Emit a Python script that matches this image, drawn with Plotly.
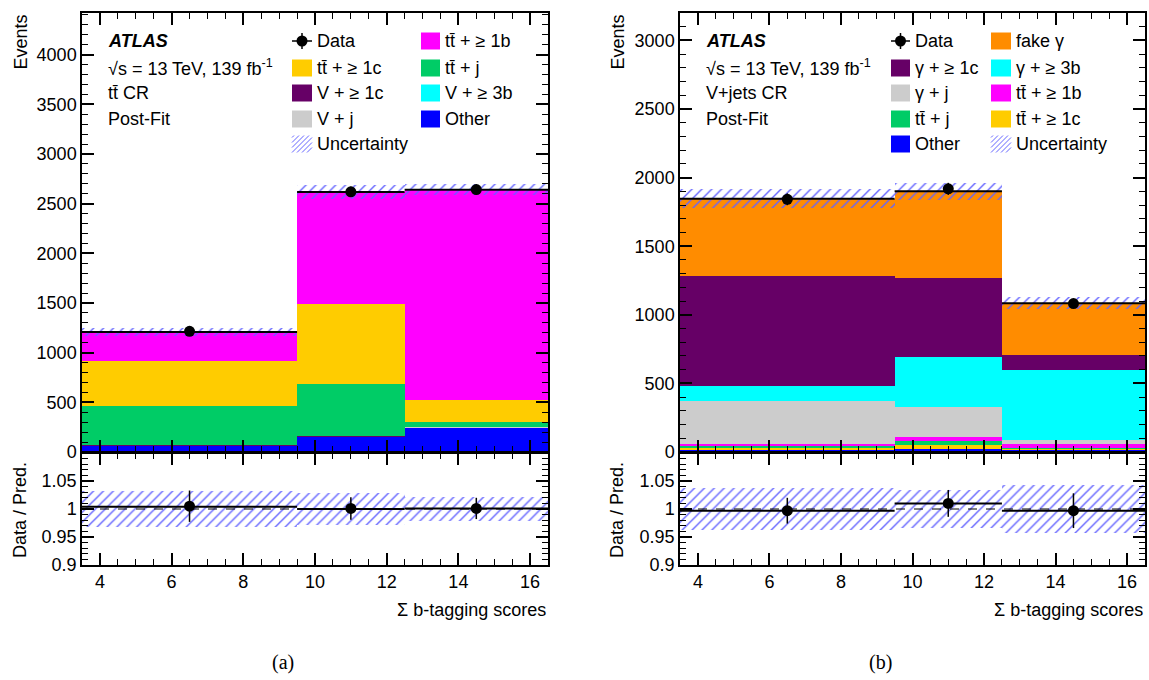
import plotly.graph_objects as go

W, H = 1149, 680


def px(x):
    return x / W


def py(y):
    return 1 - y / H


# ---------------- data ----------------
bin_edges = [3.5, 9.5, 12.5, 16.5]
bin_centers = [6.5, 11.0, 14.5]
bin_widths = [6.0, 3.0, 4.0]

# (a) ttbar CR, post-fit
a_other = [65, 155, 250]
a_vj = [3, 3, 3]
a_v3b = [1, 1, 1]
a_v1c = [1, 1, 1]
a_ttj = [395, 520, 50]
a_ttc = [448, 810, 220]
a_ttb = [294, 1127, 2115]
a_data = [1215, 2620, 2642]
a_data_err = [35, 51, 51]
a_unc = [42, 70, 54]
a_ratio = [1.005, 1.001, 1.001]
a_ratio_err = [0.028, 0.020, 0.019]
a_ratio_line = [1.004, 1.000, 1.001]
a_ratio_band = [0.033, 0.028, 0.021]

# (b) V+jets CR, post-fit
b_other = [20, 25, 20]
b_ttc = [10, 25, 5]
b_ttj = [20, 30, 5]
b_ttb = [10, 27, 30]
b_gj = [313, 222, 25]
b_g3b = [107, 364, 513]
b_g1c = [805, 578, 109]
b_fake = [561, 629, 378]
b_data = [1842, 1918, 1082]
b_data_err = [43, 44, 33]
b_unc = [68, 63, 43]
b_ratio = [0.997, 1.010, 0.997]
b_ratio_err = [0.023, 0.024, 0.031]
b_ratio_line = [0.997, 1.010, 0.997]
b_ratio_band = [0.038, 0.034, 0.042]

C_TTB = "#ff00ff"
C_TTC = "#ffcc00"
C_TTJ = "#00cc66"
C_V1C = "#660066"
C_V3B = "#00ffff"
C_VJ = "#cccccc"
C_OTHER = "#0000ff"
C_FAKE = "#ff8c00"
C_HATCH = "#6464ff"

FONT = "Liberation Sans, Arial, Helvetica, sans-serif"
TBAR = "t" + "t\u0304"

fig = go.Figure()


def add_stack(components, xa, ya):
    base = [0.0] * len(bin_centers)
    for name, vals, color in components:
        fig.add_trace(go.Bar(
            x=bin_centers, y=vals, base=list(base), width=bin_widths,
            marker=dict(color=color, line=dict(width=0)), opacity=1,
            xaxis=xa, yaxis=ya, showlegend=False, name=name))
        base = [b + v for b, v in zip(base, vals)]
    return base


def add_steps(values, xa, ya, dash="solid", width=2):
    xs, ys = [], []
    for i, v in enumerate(values):
        xs += [bin_edges[i], bin_edges[i + 1], None]
        ys += [v, v, None]
    fig.add_trace(go.Scatter(x=xs, y=ys, mode="lines",
                             line=dict(color="black", width=width, dash=dash),
                             xaxis=xa, yaxis=ya, showlegend=False, hoverinfo="skip"))


def add_band(center, half, xa, ya):
    fig.add_trace(go.Bar(
        x=bin_centers, y=[2 * h for h in half],
        base=[c - h for c, h in zip(center, half)], width=bin_widths,
        marker=dict(color="rgba(0,0,0,0)", line=dict(width=0),
                    pattern=dict(shape="/", fgcolor=C_HATCH, bgcolor="rgba(0,0,0,0)",
                                 size=7, solidity=0.2)),
        opacity=1, xaxis=xa, yaxis=ya, showlegend=False, name="Uncertainty"))


def add_points(vals, errs, xa, ya):
    fig.add_trace(go.Scatter(
        x=bin_centers, y=vals, mode="markers",
        marker=dict(color="black", size=11),
        error_y=dict(type="data", array=errs, color="black", thickness=1.5, width=0),
        xaxis=xa, yaxis=ya, showlegend=False, name="Data"))


# ---- panel (a)
a_tot = add_stack([
    ("Other", a_other, C_OTHER),
    ("V + j", a_vj, C_VJ),
    ("V + >=3b", a_v3b, C_V3B),
    ("V + >=1c", a_v1c, C_V1C),
    ("tt + j", a_ttj, C_TTJ),
    ("tt + >=1c", a_ttc, C_TTC),
    ("tt + >=1b", a_ttb, C_TTB),
], "x", "y")
add_band(a_tot, a_unc, "x", "y")
add_steps(a_tot, "x", "y")
add_points(a_data, a_data_err, "x", "y")

add_band([1.0] * 3, a_ratio_band, "x2", "y2")
fig.add_trace(go.Scatter(x=[bin_edges[0], bin_edges[-1]], y=[1, 1], mode="lines",
                         line=dict(color="black", width=1, dash="dash"),
                         xaxis="x2", yaxis="y2", showlegend=False, hoverinfo="skip"))
add_steps(a_ratio_line, "x2", "y2")
add_points(a_ratio, a_ratio_err, "x2", "y2")

# ---- panel (b)
b_tot = add_stack([
    ("Other", b_other, C_OTHER),
    ("tt + >=1c", b_ttc, C_TTC),
    ("tt + j", b_ttj, C_TTJ),
    ("tt + >=1b", b_ttb, C_TTB),
    ("gamma + j", b_gj, C_VJ),
    ("gamma + >=3b", b_g3b, C_V3B),
    ("gamma + >=1c", b_g1c, C_V1C),
    ("fake gamma", b_fake, C_FAKE),
], "x3", "y3")
add_band(b_tot, b_unc, "x3", "y3")
add_steps(b_tot, "x3", "y3")
add_points(b_data, b_data_err, "x3", "y3")

add_band([1.0] * 3, b_ratio_band, "x4", "y4")
fig.add_trace(go.Scatter(x=[bin_edges[0], bin_edges[-1]], y=[1, 1], mode="lines",
                         line=dict(color="black", width=1, dash="dash"),
                         xaxis="x4", yaxis="y4", showlegend=False, hoverinfo="skip"))
add_steps(b_ratio_line, "x4", "y4")
add_points(b_ratio, b_ratio_err, "x4", "y4")

# ---------------- axes ----------------
LEFT = [px(82), px(548)]
RIGHT = [px(680), px(1145)]
MAIN_Y = [py(452), py(13)]
RAT_Y = [py(565), py(453)]

tickfont = dict(family=FONT, size=18, color="black")


def xax(domain, anchor, labels):
    return dict(domain=domain, anchor=anchor, range=[3.5, 16.5], showgrid=False, zeroline=False,
                automargin=False,
                showline=True, linecolor="black", linewidth=1.5, mirror="ticks",
                ticks="inside", ticklen=12, tickwidth=1.5, tickcolor="black",
                tickmode="linear", tick0=0, dtick=2, showticklabels=labels, tickfont=tickfont,
                minor=dict(ticks="inside", ticklen=6, tickwidth=1, tickcolor="black",
                           tickmode="linear", tick0=0, dtick=0.5, showgrid=False))


def yax_main(anchor, ymax):
    return dict(domain=MAIN_Y, anchor=anchor, range=[0, ymax], showgrid=False, zeroline=False,
                automargin=False,
                showline=True, linecolor="black", linewidth=1.5, mirror="ticks",
                ticks="inside", ticklen=12, tickwidth=1.5, tickcolor="black",
                tickmode="linear", tick0=0, dtick=500, tickfont=tickfont,
                minor=dict(ticks="inside", ticklen=6, tickwidth=1, tickcolor="black",
                           tickmode="linear", tick0=0, dtick=100, showgrid=False))


def yax_ratio(anchor):
    return dict(domain=RAT_Y, anchor=anchor, range=[0.9, 1.1], showgrid=False, zeroline=False,
                automargin=False,
                showline=True, linecolor="black", linewidth=1.5, mirror="ticks",
                ticks="inside", ticklen=12, tickwidth=1.5, tickcolor="black",
                tickmode="array", tickvals=[0.9, 0.95, 1.0, 1.05],
                ticktext=["0.9", "0.95", "1", "1.05"], tickfont=tickfont,
                minor=dict(ticks="inside", ticklen=6, tickwidth=1, tickcolor="black",
                           tickmode="linear", tick0=0.9, dtick=0.01, showgrid=False))


fig.update_layout(
    template="none",
    width=W, height=H, autosize=False,
    margin=dict(l=0, r=0, t=0, b=0, pad=0, autoexpand=False),
    paper_bgcolor="white", plot_bgcolor="white",
    barmode="overlay", bargap=0,
    showlegend=False,
    font=dict(family=FONT, size=18, color="black"),
    xaxis=xax(LEFT, "y", False),
    yaxis=yax_main("x", 4420),
    xaxis2=xax(LEFT, "y2", True),
    yaxis2=yax_ratio("x2"),
    xaxis3=xax(RIGHT, "y3", False),
    yaxis3=yax_main("x3", 3200),
    xaxis4=xax(RIGHT, "y4", True),
    yaxis4=yax_ratio("x4"),
)

# ---------------- text & legend ----------------
annotations = []
shapes = []


def text(x, y, s, size=18, xanchor="left", yanchor="middle", angle=0, family=FONT):
    annotations.append(dict(xref="paper", yref="paper", x=px(x), y=py(y), text=s,
                            showarrow=False, xanchor=xanchor, yanchor=yanchor,
                            textangle=angle, font=dict(family=family, size=size, color="black")))


def swatch(x0, x1, yc, color):
    shapes.append(dict(type="rect", xref="paper", yref="paper",
                       x0=px(x0), x1=px(x1), y0=py(yc + 8.5), y1=py(yc - 8.5),
                       fillcolor=color, line=dict(width=0)))


def hatch_swatch(x0, x1, yc):
    y0, y1 = yc + 8.5, yc - 8.5
    h = y0 - y1
    for k in range(-3, 5):
        xa, ya = x0 + k * 5, y0
        xb, yb = xa + h, y1
        if xa < x0:
            ya = y0 - (x0 - xa)
            xa = x0
        if xb > x1:
            yb = y1 + (xb - x1)
            xb = x1
        if xa >= x1 or ya <= y1 or xb <= xa:
            continue
        shapes.append(dict(type="line", xref="paper", yref="paper",
                           x0=px(xa), y0=py(ya), x1=px(xb), y1=py(yb),
                           line=dict(color=C_HATCH, width=1)))


def data_marker(x0, x1, yc):
    xc = (x0 + x1) / 2
    shapes.append(dict(type="line", xref="paper", yref="paper",
                       x0=px(x0), x1=px(x1), y0=py(yc), y1=py(yc),
                       line=dict(color="black", width=1.5)))
    shapes.append(dict(type="line", xref="paper", yref="paper",
                       x0=px(xc), x1=px(xc), y0=py(yc - 8), y1=py(yc + 8),
                       line=dict(color="black", width=1.5)))
    shapes.append(dict(type="circle", xref="paper", yref="paper",
                       x0=px(xc - 5.5), x1=px(xc + 5.5), y0=py(yc + 5.5), y1=py(yc - 5.5),
                       fillcolor="black", line=dict(color="black", width=0)))


rows = [41, 68, 93, 119, 144]

# panel (a) labels
text(106, rows[0], "<b><i>ATLAS</i></b>")
text(106, rows[1], "\u221as = 13 TeV, 139 fb<sup>-1</sup>")
text(106, rows[2], TBAR + " CR")
text(106, rows[3], "Post-Fit")

a_col1 = [("data", "Data"), (C_TTC, TBAR + " + \u2265 1c"), (C_V1C, "V + \u2265 1c"),
          (C_VJ, "V + j"), ("hatch", "Uncertainty")]
a_col2 = [(C_TTB, TBAR + " + \u2265 1b"), (C_TTJ, TBAR + " + j"), (C_V3B, "V + \u2265 3b"),
          (C_OTHER, "Other")]

b_col1 = [("data", "Data"), (C_V1C, "\u03b3 + \u2265 1c"), (C_VJ, "\u03b3 + j"),
          (C_TTJ, TBAR + " + j"), (C_OTHER, "Other")]
b_col2 = [(C_FAKE, "fake \u03b3"), (C_V3B, "\u03b3 + \u2265 3b"), (C_TTB, TBAR + " + \u2265 1b"),
          (C_TTC, TBAR + " + \u2265 1c"), ("hatch", "Uncertainty")]


def legend_col(entries, sx0, sx1, tx):
    for (kind, label), yc in zip(entries, rows):
        if kind == "data":
            data_marker(sx0, sx1, yc)
        elif kind == "hatch":
            hatch_swatch(sx0, sx1, yc)
        else:
            swatch(sx0, sx1, yc, kind)
        text(tx, yc, label)


legend_col(a_col1, 292, 312, 315)
legend_col(a_col2, 421, 440, 443)

# panel (b) labels
text(704, rows[0], "<b><i>ATLAS</i></b>")
text(704, rows[1], "\u221as = 13 TeV, 139 fb<sup>-1</sup>")
text(704, rows[2], "V+jets CR")
text(704, rows[3], "Post-Fit")
legend_col(b_col1, 891, 910, 913)
legend_col(b_col2, 991, 1011, 1014)

# axis titles
for xc in (20, 617):
    text(xc, 13, "Events", xanchor="center", yanchor="top", angle=-90)
    text(xc, 510, "Data / Pred.", xanchor="center", yanchor="middle", angle=-90)
text(548, 610, "\u03a3 b-tagging scores", xanchor="right")
text(1145, 610, "\u03a3 b-tagging scores", xanchor="right")

# captions
text(283, 662, "(a)", size=20, xanchor="center", family="Liberation Serif, Times New Roman, serif")
text(880, 662, "(b)", size=20, xanchor="center", family="Liberation Serif, Times New Roman, serif")

fig.update_layout(annotations=annotations, shapes=shapes)

page_css = (
    "var s=document.createElement('style');"
    "s.textContent='html,body{margin:0;padding:0;overflow:hidden;width:1149px;height:680px;}';"
    "document.head.appendChild(s);"
)

fig.write_html("out.html", config={"displayModeBar": False}, post_script=page_css)
